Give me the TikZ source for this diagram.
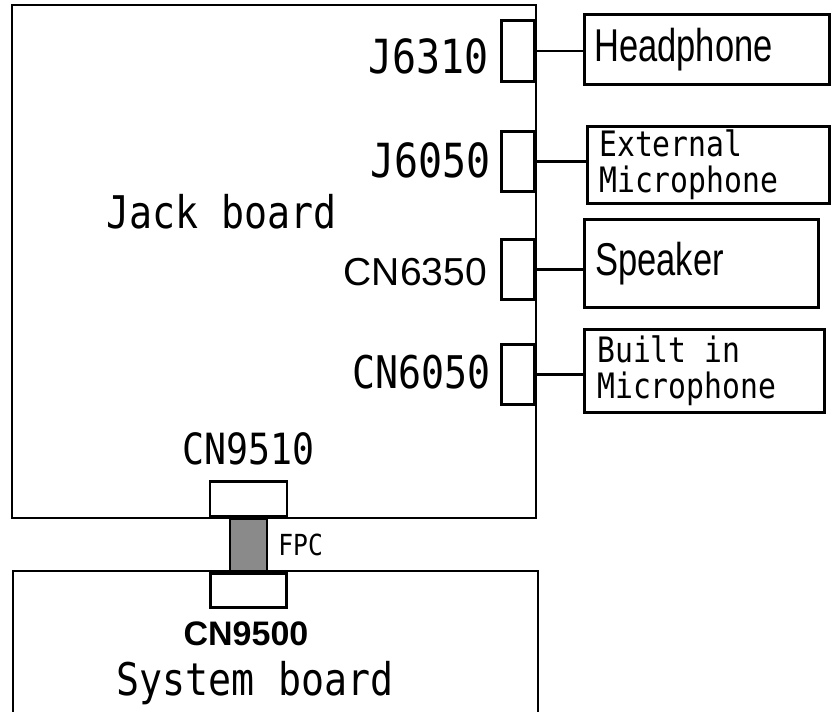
\documentclass[tikz,border=0pt]{standalone}
\usepackage{fontspec}
\setmainfont{Liberation Sans}
\newfontfamily\gothic[FakeStretch=0.85]{DejaVu Sans Mono}
\newfontfamily\pgothic[FakeStretch=0.75]{Liberation Sans}
\usetikzlibrary{positioning}

\begin{document}
\begin{tikzpicture}[
  x=1pt, y=-1pt,
  board/.style={draw, line width=2.8pt},
  conn/.style={draw, line width=2.6pt, fill=white, inner sep=0pt, minimum width=33pt, minimum height=60pt, anchor=north east},
  dev/.style={draw, line width=2.6pt, inner sep=0pt, anchor=north west},
  fpc/.style={draw, line width=2.4pt, fill=black!46, inner sep=0pt, minimum width=37pt, minimum height=52pt},
  wire/.style={line width=2.5pt},
  lab/.style={anchor=base east, inner sep=0pt},
  txt/.style={anchor=west, inner sep=0pt, align=left}]
\clip (0,0) rectangle (833,712);

\draw[board] (12,5) rectangle (536,518);
\draw[board, line width=2.2pt] (13,571) rectangle (538,740);
\node[font=\gothic\fontsize{45}{45}\selectfont, anchor=base west, inner sep=0pt] (jack) at (106,228) {Jack board};

\foreach \n/\y/\h in {c1/19/61, c2/130/60, c3/238/60, c4/343/60}
  \node[conn, minimum height=\h pt] (\n) at (536,\y) {};

\node[lab, font=\gothic\fontsize{47}{47}\selectfont] (l1) at (489,73) {J6310};
\node[lab, font=\gothic\fontsize{47}{47}\selectfont] (l2) at (491,177) {J6050};
\node[lab, font=\fontsize{39}{39}\selectfont] (l3) at (487,285) {CN6350};
\node[lab, font=\gothic\fontsize{45}{45}\selectfont] (l4) at (491,388) {CN6050};

\node[dev, minimum width=245pt, minimum height=70pt] (d1) at (583,13) {};
\node[dev, minimum width=242pt, minimum height=77pt] (d2) at (586,125) {};
\node[dev, minimum width=234pt, minimum height=88pt] (d3) at (583,218) {};
\node[dev, minimum width=240pt, minimum height=83pt] (d4) at (583,328) {};

\node[txt, font=\pgothic\fontsize{46}{46}\selectfont] (t1) at ([xshift=11pt]d1.west) {Headphone};
\node[txt, font=\gothic\fontsize{35}{36}\selectfont] (t2) at ([xshift=13pt]d2.west) {External\\Microphone};
\node[txt, font=\pgothic\fontsize{46}{46}\selectfont] (t3) at ([xshift=12pt]d3.west) {Speaker};
\node[txt, font=\gothic\fontsize{35}{36}\selectfont] (t4) at ([xshift=14pt]d4.west) {Built in\\Microphone};

\foreach \i in {1,...,4}
  \draw[wire] (c\i.east) -- (c\i.east -| d\i.west);

\node[conn, anchor=south, minimum width=77pt, minimum height=35pt] (cn9510) at (248.5,518) {};
\node[fpc, below=0pt of cn9510] (flex) {};
\node[conn, below=0pt of flex, minimum width=76pt, minimum height=34pt] (cn9500) {};

\node[font=\gothic\fontsize{43}{43}\selectfont, inner sep=0pt, above=15pt of cn9510] (l9510) {CN9510};
\node[font=\gothic\fontsize{29}{29}\selectfont, inner sep=0pt, right=10pt of flex] (lflex) {FPC};
\node[font=\fontsize{34}{34}\selectfont\bfseries, anchor=base, inner sep=0pt] (l9500) at (246,645) {CN9500};
\node[font=\gothic\fontsize{45}{45}\selectfont, anchor=base, inner sep=0pt] (sys) at (255,695) {System board};
\end{tikzpicture}
\end{document}
